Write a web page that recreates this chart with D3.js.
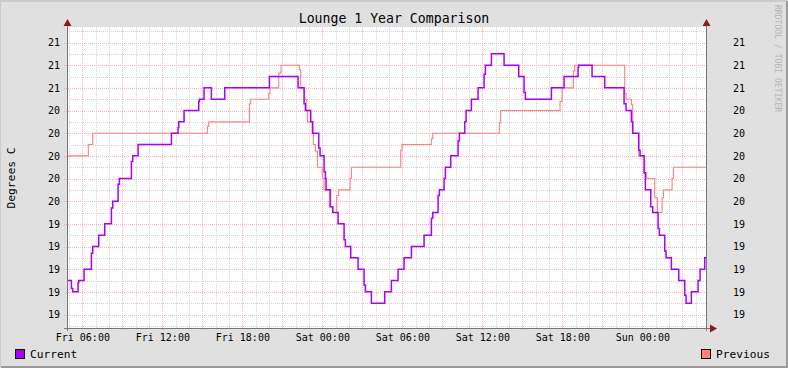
<!DOCTYPE html>
<html><head><meta charset="utf-8">
<script src="https://cdn.jsdelivr.net/npm/d3@7"></script>
<style>
body{margin:0;background:#e0e0e0}
svg text{font-family:"DejaVu Sans Mono",monospace}
</style>
</head><body><svg id="c" width="788" height="368"></svg>
<script>
// ---------------- data ----------------
const chartTitle = "Lounge 1 Year Comparison";
const yAxisTitle = "Degrees C";
const watermark = "RRDTOOL / TOBI OETIKER";
const seriesNames = ["Current", "Previous"];
const seriesColors = ["#aa00ff", "#ff8080"];
// hours since Friday 00:00, step change points
const currentHours = [4.85,5.18,5.28,5.68,5.73,6.13,6.68,6.78,7.23,7.68,8.18,8.28,8.68,8.78,9.68,9.78,10.18,12.68,13.18,13.23,13.63,14.73,14.78,15.13,15.68,16.68,20.03,22.18,22.63,22.73,23.13,23.28,23.73,23.83,24.13,24.23,24.28,24.58,24.78,25.18,25.63,25.73,26.13,26.68,27.13,27.23,27.68,28.68,29.18,29.68,30.13,30.68,31.63,32.18,32.28,32.68,32.78,33.13,33.23,33.63,34.18,34.28,34.68,34.78,35.18,35.68,36.13,36.23,36.68,37.63,38.73,39.13,39.23,41.18,42.13,43.18,43.23,44.23,45.18,46.63,46.78,47.18,47.28,47.73,47.83,48.13,48.23,48.63,48.78,49.18,49.28,49.68,49.78,50.18,50.73,51.18,51.28,51.68,52.18,52.33,52.68];
const currentValues = [18.9,18.83,18.8,18.88,18.9,19.0,19.14,19.2,19.3,19.4,19.54,19.6,19.75,19.8,19.95,20.0,20.1,20.2,20.25,20.3,20.4,20.48,20.5,20.6,20.5,20.6,20.7,20.6,20.46,20.4,20.3,20.2,20.07,20.0,19.86,19.8,19.7,19.55,19.5,19.4,19.26,19.2,19.1,19.0,18.86,18.8,18.7,18.8,18.9,19.0,19.1,19.2,19.3,19.45,19.5,19.65,19.7,19.8,19.9,20.0,20.13,20.2,20.3,20.4,20.5,20.6,20.72,20.8,20.9,20.8,20.7,20.56,20.5,20.6,20.7,20.78,20.8,20.7,20.6,20.46,20.4,20.3,20.2,20.05,20.0,19.85,19.7,19.55,19.5,19.36,19.3,19.16,19.1,19.0,18.9,18.77,18.7,18.8,18.9,19.0,19.1];
const previousHours = [4.85,6.45,6.78,15.38,15.48,18.53,18.63,19.98,20.08,20.73,20.9,22.28,22.38,22.68,22.83,22.88,23.23,23.33,23.48,23.63,23.98,24.03,24.13,24.63,24.78,25.08,25.23,26.08,26.18,29.88,29.98,32.18,32.28,37.28,37.38,41.83,41.98,42.83,42.93,46.68,46.78,47.18,47.28,47.73,48.18,48.33,48.93,49.13,49.48,49.58,50.23,50.33];
const previousValues = [20.0,20.1,20.2,20.26,20.3,20.46,20.5,20.55,20.6,20.73,20.8,20.76,20.6,20.5,20.4,20.3,20.2,20.1,20.04,19.9,19.85,19.8,19.7,19.55,19.5,19.65,19.7,19.8,19.9,20.05,20.1,20.15,20.2,20.29,20.4,20.48,20.6,20.75,20.8,20.55,20.5,20.45,20.2,20.0,19.85,19.8,19.63,19.5,19.63,19.7,19.8,19.9];
const timeRangeHours = [4.85, 52.85];
const valueRange = [18.481, 21.137];
const yMajorStep = 0.2, yMinorStep = 0.1;

// ---------------- drawing ----------------
const svg = d3.select("#c");
const W = 788, H = 368;
const L = 67, R = 707, T = 27, B = 328;
const base = new Date(2024, 0, 5, 0, 0, 0); // a Friday
const toDate = h => new Date(base.getTime() + h * 3600000);

const x = d3.scaleTime().domain(timeRangeHours.map(toDate)).range([L, R]);
const y = d3.scaleLinear().domain(valueRange).range([B, T]);

// background and 3D border
svg.append("rect").attr("width", W).attr("height", H).attr("fill", "#e0e0e0");
svg.append("path").attr("d", `M0,${H-1}V1H${W-1}`).attr("stroke", "#cbcbcb").attr("stroke-width", 2).attr("fill", "none");
svg.append("path").attr("d", `M1,${H-1}H${W-1}V1`).attr("stroke", "#999").attr("stroke-width", 2).attr("fill", "none");
svg.append("rect").attr("x", L).attr("y", T).attr("width", R - L).attr("height", B - T).attr("fill", "#fff");

const g = svg.append("g").attr("shape-rendering", "crispEdges");
const minorCol = "#d4d4d4", majorCol = "#ffb0b0";
// vertical grid
const hourTicks = x.ticks(d3.timeHour.every(1));
const majorTicks = x.ticks(d3.timeHour.every(3));
const majorSet = new Set(majorTicks.map(d => +d));
g.selectAll(".vmin").data(hourTicks.filter(d => !majorSet.has(+d))).join("line")
  .attr("x1", d => Math.round(x(d)) + 0.5).attr("x2", d => Math.round(x(d)) + 0.5)
  .attr("y1", T).attr("y2", B).attr("stroke", minorCol).attr("stroke-dasharray", "1,1");
g.selectAll(".vmaj").data(majorTicks).join("line")
  .attr("x1", d => Math.round(x(d)) + 0.5).attr("x2", d => Math.round(x(d)) + 0.5)
  .attr("y1", T).attr("y2", B + 3).attr("stroke", majorCol).attr("stroke-dasharray", "1,1");
// horizontal grid
const yMinor = d3.range(Math.ceil(valueRange[0] / yMinorStep), Math.floor(valueRange[1] / yMinorStep) + 1).map(i => +(i * yMinorStep).toFixed(2));
const yMajor = yMinor.filter(v => Math.abs(v / yMajorStep - Math.round(v / yMajorStep)) < 1e-6);
g.selectAll(".hmin").data(yMinor.filter(v => !yMajor.includes(v))).join("line")
  .attr("x1", L).attr("x2", R).attr("y1", d => Math.round(y(d)) + 0.5).attr("y2", d => Math.round(y(d)) + 0.5)
  .attr("stroke", minorCol).attr("stroke-dasharray", "1,1");
g.selectAll(".hmaj").data(yMajor).join("line")
  .attr("x1", L - 3).attr("x2", R + 3).attr("y1", d => Math.round(y(d)) + 0.5).attr("y2", d => Math.round(y(d)) + 0.5)
  .attr("stroke", majorCol).attr("stroke-dasharray", "1,1");

// series
const series = [
  {name: seriesNames[1], color: seriesColors[1], hours: previousHours, values: previousValues, w: 1.1},
  {name: seriesNames[0], color: seriesColors[0], hours: currentHours, values: currentValues, w: 1.5}
];
const line = d3.line().x(d => x(d.t)).y(d => y(d.v)).curve(d3.curveStepAfter);
series.forEach(s => {
  const pts = s.hours.map((h, i) => ({t: toDate(h), v: s.values[i]}));
  pts.push({t: toDate(timeRangeHours[1]), v: s.values[s.values.length - 1]});
  svg.append("path").datum(pts).attr("d", line).attr("fill", "none")
    .attr("stroke", s.color).attr("stroke-width", s.w);
});

// axes lines
const ax = svg.append("g").attr("shape-rendering", "crispEdges");
ax.append("line").attr("x1", L + 0.5).attr("x2", L + 0.5).attr("y1", 22).attr("y2", B + 3).attr("stroke", "#777").attr("stroke-width", 1);
ax.append("line").attr("x1", R - 0.5).attr("x2", R - 0.5).attr("y1", 22).attr("y2", B + 3).attr("stroke", "#777").attr("stroke-width", 1);
ax.append("line").attr("x1", L - 3).attr("x2", R + 4).attr("y1", B + 0.5).attr("y2", B + 0.5).attr("stroke", "#777").attr("stroke-width", 1);
// arrows
const arrowCol = "#8b1a1a";
svg.append("path").attr("d", `M${L-3.5},26L${L+0.5},19L${L+4.5},26Z`).attr("fill", arrowCol);
svg.append("path").attr("d", `M${R-4.5},26L${R-0.5},19L${R+3.5},26Z`).attr("fill", arrowCol);
svg.append("path").attr("d", `M${R+3},${B-3.5}L${R+10},${B+0.5}L${R+3},${B+4.5}Z`).attr("fill", arrowCol);

// x axis labels
const xAxis = d3.axisBottom(x).ticks(d3.timeHour.every(6)).tickFormat(d3.timeFormat("%a %H:%M")).tickSize(0).tickPadding(6);
const gx = svg.append("g").attr("transform", `translate(0,${B})`).call(xAxis);
gx.select(".domain").remove();
gx.selectAll("text").attr("font-size", 10).attr("fill", "#000").attr("font-family", "DejaVu Sans Mono");
gx.attr("font-size", 10);

// y axis labels left/right
const fmt = d3.format(".0f");
const yAxisL = d3.axisLeft(y).tickValues(yMajor).tickFormat(fmt).tickSize(0).tickPadding(7);
const gyl = svg.append("g").attr("transform", `translate(${L},0)`).call(yAxisL);
gyl.select(".domain").remove();
gyl.selectAll("text").attr("font-size", 10).attr("fill", "#000").attr("font-family", "DejaVu Sans Mono");
const yAxisR = d3.axisRight(y).tickValues(yMajor).tickFormat(fmt).tickSize(0).tickPadding(26);
const gyr = svg.append("g").attr("transform", `translate(${R},0)`).call(yAxisR);
gyr.select(".domain").remove();
gyr.selectAll("text").attr("font-size", 10).attr("fill", "#000").attr("font-family", "DejaVu Sans Mono");

// title
svg.append("text").attr("x", 394).attr("y", 23).attr("text-anchor", "middle")
  .attr("font-size", 13.2).attr("fill", "#000").text(chartTitle);
// y title
svg.append("text").attr("transform", "translate(15,178) rotate(-90)").attr("text-anchor", "middle")
  .attr("font-size", 11.3).attr("fill", "#000").text(yAxisTitle);
// watermark
svg.append("text").attr("transform", "translate(775,5) rotate(90)").attr("text-anchor", "start")
  .attr("font-size", 8.1).attr("fill", "#b4b4b4").text(watermark);

// legend
const legendPos = [{x: 15}, {x: 701}];
seriesNames.forEach((n, i) => {
  svg.append("rect").attr("x", legendPos[i].x + 0.5).attr("y", 349.5).attr("width", 9).attr("height", 9)
    .attr("fill", seriesColors[i]).attr("stroke", "#000").attr("stroke-width", 1).attr("shape-rendering", "crispEdges");
  svg.append("text").attr("x", legendPos[i].x + 15).attr("y", 358).attr("font-size", 11.2).attr("fill", "#000").text(n);
});
</script>
</body></html>
